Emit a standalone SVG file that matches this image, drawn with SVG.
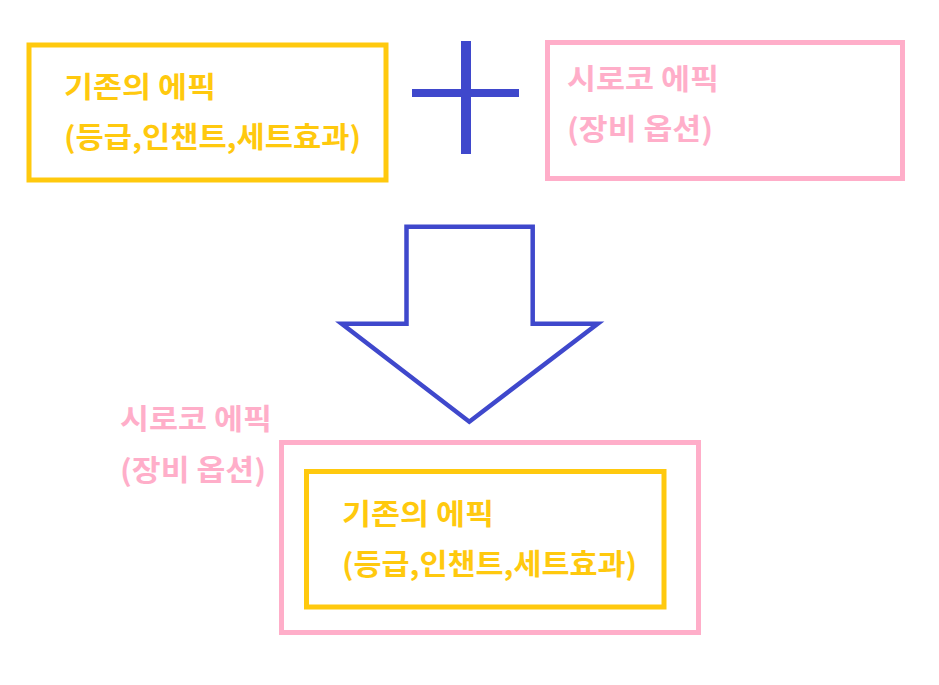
<svg xmlns="http://www.w3.org/2000/svg" width="939" height="685" viewBox="0 0 939 685">
  <style>
    .yb { fill: none; stroke: #FFC90E; stroke-width: 5; }
    .pb { fill: none; stroke: #FFAEC9; stroke-width: 5; }
    .t { font-family: "Noto Sans CJK KR", "Noto Sans", sans-serif; font-size: 29px; font-weight: bold; }
    .yt { fill: #FFC90E; }
    .pt { fill: #FFAEC9; }
    .blue { fill: #3F48CC; }
    .arrow { fill: #FFFFFF; stroke: #3F48CC; stroke-width: 4.5; stroke-linejoin: miter; }
  </style>
  <rect width="939" height="685" fill="#FFFFFF"/>
  <g id="existing-epic">
    <rect class="yb" x="29" y="45" width="357" height="135"/>
    <text class="t yt" x="64" y="98" textLength="152" lengthAdjust="spacingAndGlyphs">기존의 에픽</text>
    <text class="t yt" x="64" y="148" textLength="297" lengthAdjust="spacingAndGlyphs">(등급,인챈트,세트효과)</text>
  </g>
  <g id="siroco-epic">
    <rect class="pb" x="547.5" y="42.5" width="355" height="136"/>
    <text class="t pt" x="567" y="90" textLength="152" lengthAdjust="spacingAndGlyphs">시로코 에픽</text>
    <text class="t pt" x="567" y="140" textLength="146" lengthAdjust="spacingAndGlyphs">(장비 옵션)</text>
  </g>
  <g id="connectors">
    <rect class="blue" x="461" y="41" width="10" height="113"/>
    <rect class="blue" x="412" y="89" width="107" height="8"/>
    <polygon class="arrow" points="406.5,226.7 532.7,226.7 532.7,323.7 597.7,323.7 469.3,421.7 341.7,323.7 406.5,323.7"/>
  </g>
  <g id="combined-epic">
    <text class="t pt" x="120" y="430" textLength="152" lengthAdjust="spacingAndGlyphs">시로코 에픽</text>
    <text class="t pt" x="120" y="481" textLength="146" lengthAdjust="spacingAndGlyphs">(장비 옵션)</text>
    <rect class="pb" x="281.5" y="442.5" width="417" height="190"/>
    <g id="combined-inner">
      <rect class="yb" x="306.5" y="471.5" width="357.5" height="135.5"/>
      <text class="t yt" x="342" y="525" textLength="152" lengthAdjust="spacingAndGlyphs">기존의 에픽</text>
      <text class="t yt" x="342" y="575" textLength="295" lengthAdjust="spacingAndGlyphs">(등급,인챈트,세트효과)</text>
    </g>
  </g>
</svg>
